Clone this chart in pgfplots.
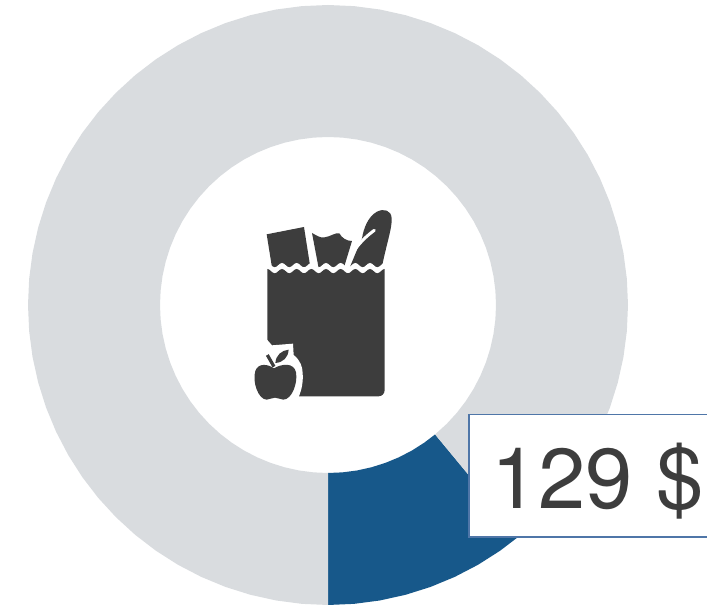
\documentclass[border=0pt]{standalone}
\usepackage{pgfplots}
\pgfplotsset{compat=1.18}
\usepgfplotslibrary{polar}
\usepackage{fontspec}
\setmainfont{TeX Gyre Heros}
\definecolor{ringgrey}{HTML}{D9DCDF}
\definecolor{ringblue}{HTML}{17588A}
\definecolor{icon}{HTML}{3D3D3D}
\definecolor{boxline}{HTML}{4F76A8}
\begin{document}
\begin{tikzpicture}
\path[use as bounding box] (0,0) rectangle (707pt,607pt);
\clip (0,0) rectangle (707pt,607pt);
\begin{axis}[
  at={(0,0)}, anchor=south west, scale only axis,
  width=707pt, height=607pt,
  xmin=-328, xmax=379, ymin=-302, ymax=305,
  hide axis, clip=false]
% share 129 $: angles -90 .. -50.4 degrees
\addplot[data cs=polar, fill=ringblue, draw=none] coordinates {
(-90,300)(-85,300)(-80,300)(-75,300)(-70,300)(-65,300)(-60,300)(-55,300)(-50.4,300)
(-50.4,168)(-55,168)(-60,168)(-65,168)(-70,168)(-75,168)(-80,168)(-85,168)(-90,168)
} --cycle;
% remainder: angles -50.4 .. 270 degrees
\addplot[data cs=polar, fill=ringgrey, draw=none] coordinates {
(-50.4,300)(-45,300)(-40,300)(-35,300)(-30,300)(-25,300)(-20,300)(-15,300)(-10,300)(-5,300)
(0,300)(5,300)(10,300)(15,300)(20,300)(25,300)(30,300)(35,300)(40,300)(45,300)(50,300)(55,300)
(60,300)(65,300)(70,300)(75,300)(80,300)(85,300)(90,300)(95,300)(100,300)(105,300)(110,300)(115,300)
(120,300)(125,300)(130,300)(135,300)(140,300)(145,300)(150,300)(155,300)(160,300)(165,300)(170,300)(175,300)
(180,300)(185,300)(190,300)(195,300)(200,300)(205,300)(210,300)(215,300)(220,300)(225,300)(230,300)(235,300)
(240,300)(245,300)(250,300)(255,300)(260,300)(265,300)(270,300)
(270,168)(265,168)(260,168)(255,168)(250,168)(245,168)(240,168)
(235,168)(230,168)(225,168)(220,168)(215,168)(210,168)(205,168)(200,168)(195,168)(190,168)(185,168)(180,168)
(175,168)(170,168)(165,168)(160,168)(155,168)(150,168)(145,168)(140,168)(135,168)(130,168)(125,168)(120,168)
(115,168)(110,168)(105,168)(100,168)(95,168)(90,168)(85,168)(80,168)(75,168)(70,168)(65,168)(60,168)
(55,168)(50,168)(45,168)(40,168)(35,168)(30,168)(25,168)(20,168)(15,168)(10,168)(5,168)(0,168)
(-5,168)(-10,168)(-15,168)(-20,168)(-25,168)(-30,168)(-35,168)(-40,168)(-45,168)(-50.4,168)
} --cycle;
\end{axis}
\begin{scope}[x=1pt,y=-1pt,yshift=607pt]
  % label box
  \draw[boxline,line width=1.5pt,fill=white] (469,414.5) rectangle (720,537);
  \node[anchor=base west,inner sep=0pt,text=icon,font=\fontsize{85}{90}\selectfont] at (491,508.7) {129 \$};
  % grocery bag icon, in 3x zoom coordinates
  \begin{scope}[shift={(262,205)},x=0.3333pt,y=-0.3333pt]
    % box
    \fill[icon] (14,88) -- (126,66) -- (147,200) -- (32,200) -- cycle;
    % paper item
    \fill[icon] (150,84) .. controls (165,92) and (175,100) .. (188,97)
       .. controls (205,95) and (220,82) .. (232,85)
       .. controls (240,100) and (255,108) .. (270,108)
       -- (242,200) -- (172,200) -- cycle;
    % baguette
    \fill[icon] (258,200) -- (285,135) -- (300,100)
       .. controls (305,70) and (318,35) .. (345,20)
       .. controls (365,10) and (388,15) .. (389,40)
       .. controls (391,70) and (372,120) .. (357,200) -- cycle;
    \draw[white,line width=3pt,line cap=round] (246,200) -- (278,135) .. controls (295,110) and (320,88) .. (337,76);
    % white band under items
    \fill[white] (0,174) -- (16,174)
      .. controls (24,174) and (30,187) .. (38,187) .. controls (46,187) and (52,174) .. (60,174)
      .. controls (68,174) and (74,187) .. (82,187) .. controls (90,187) and (96,174) .. (104,174)
      .. controls (112,174) and (118,187) .. (126,187) .. controls (134,187) and (140,174) .. (148,174)
      .. controls (156,174) and (162,187) .. (170,187) .. controls (178,187) and (184,174) .. (192,174)
      .. controls (200,174) and (206,187) .. (214,187) .. controls (222,187) and (228,174) .. (236,174)
      .. controls (244,174) and (250,187) .. (258,187) .. controls (266,187) and (272,174) .. (280,174)
      .. controls (288,174) and (294,187) .. (302,187) .. controls (310,187) and (316,174) .. (324,174)
      .. controls (332,174) and (338,187) .. (346,187) .. controls (354,187) and (360,174) .. (368,174)
      -- (390,174) -- (390,215) -- (0,215) -- cycle;
    % bag
    \fill[icon] (16,192)
      .. controls (24,192) and (30,205) .. (38,205) .. controls (46,205) and (52,192) .. (60,192)
      .. controls (68,192) and (74,205) .. (82,205) .. controls (90,205) and (96,192) .. (104,192)
      .. controls (112,192) and (118,205) .. (126,205) .. controls (134,205) and (140,192) .. (148,192)
      .. controls (156,192) and (162,205) .. (170,205) .. controls (178,205) and (184,192) .. (192,192)
      .. controls (200,192) and (206,205) .. (214,205) .. controls (222,205) and (228,192) .. (236,192)
      .. controls (244,192) and (250,205) .. (258,205) .. controls (266,205) and (272,192) .. (280,192)
      .. controls (288,192) and (294,205) .. (302,205) .. controls (310,205) and (316,192) .. (324,192)
      .. controls (332,192) and (338,205) .. (346,205) .. controls (354,205) and (360,192) .. (368,192)
      -- (368,555) .. controls (368,566) and (360,574) .. (350,574) -- (16,574) -- cycle;
  \end{scope}
  % apple, in 3x zoom coordinates
  \begin{scope}[shift={(250,335)},x=0.3333pt,y=-0.3333pt]
    \fill[white] (0,15) -- (52,15) -- (66,31) -- (129,26) -- (131,60)
      .. controls (150,75) and (158,95) .. (158,115)
      .. controls (160,140) and (155,165) .. (146,186) -- (0,190) -- cycle;
    \fill[icon] (72,100) .. controls (55,88) and (25,82) .. (16,108)
      .. controls (6,140) and (25,194) .. (50,194)
      .. controls (60,194) and (65,188) .. (75,188)
      .. controls (85,188) and (90,194) .. (100,194)
      .. controls (125,194) and (144,145) .. (138,112)
      .. controls (132,82) and (95,86) .. (72,100) -- cycle;
    \draw[icon,line width=3.2pt] (52,60) -- (72,95);
    \fill[icon] (76,84) .. controls (78,60) and (95,46) .. (116,44)
      .. controls (114,68) and (100,82) .. (76,84) -- cycle;
  \end{scope}
\end{scope}
\end{tikzpicture}
\end{document}
